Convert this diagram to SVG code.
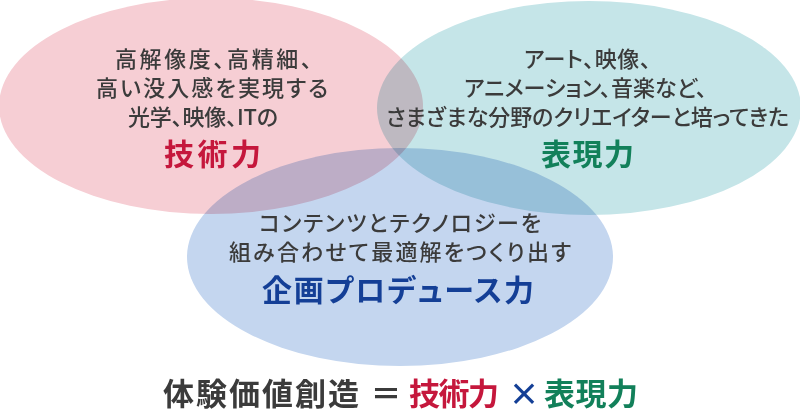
<svg xmlns="http://www.w3.org/2000/svg" width="800" height="414" viewBox="0 0 800 414">
<style>
.ell{mix-blend-mode:multiply}
text{font-family:"Noto Sans CJK JP","Noto Sans CJK SC",sans-serif;font-feature-settings:"palt";}
.d{font-size:22px;font-weight:500;fill:#3b3b3b}
.h{font-size:30px;font-weight:700}
.f{font-size:31px;font-weight:700}
.red{fill:#c5173c}
.grn{fill:#12805a}
.blu{fill:#143f96}
.gry{fill:#3b3b3b}
</style>
<rect width="800" height="414" fill="#ffffff"/>
<g id="gijutsu">
<ellipse class="ell" cx="211" cy="106" rx="212" ry="108" fill="#f6ced4"/>
<text class="d" x="115" y="67" textLength="197" lengthAdjust="spacing">高解像度、高精細、</text>
<text class="d" x="96" y="96" textLength="232" lengthAdjust="spacing">高い没入感を実現する</text>
<text class="d" x="128" y="125" textLength="150" lengthAdjust="spacing">光学、映像、ITの</text>
<text class="h red" x="164" y="165" textLength="97" lengthAdjust="spacing">技術力</text>
</g>
<g id="hyougen">
<ellipse class="ell" cx="589" cy="108" rx="212" ry="107" fill="#c5e5e8"/>
<text class="d" x="524" y="67" textLength="127" lengthAdjust="spacing">アート、映像、</text>
<text class="d" x="464" y="96" textLength="243" lengthAdjust="spacing">アニメーション、音楽など、</text>
<text class="d" x="386" y="125" textLength="403" lengthAdjust="spacing">さまざまな分野のクリエイターと培ってきた</text>
<text class="h grn" x="541" y="165" textLength="93" lengthAdjust="spacing">表現力</text>
</g>
<g id="kikaku">
<ellipse class="ell" cx="400" cy="257" rx="213" ry="109" fill="#c4d6ef"/>
<text class="d" x="259" y="231" textLength="282" lengthAdjust="spacing">コンテンツとテクノロジーを</text>
<text class="d" x="229" y="260" textLength="342" lengthAdjust="spacing">組み合わせて最適解をつくり出す</text>
<text class="h blu" x="262" y="301" textLength="272" lengthAdjust="spacing">企画プロデュース力</text>
</g>
<g id="formula">
<text class="f gry" x="163" y="405" textLength="196" lengthAdjust="spacing">体験価値創造</text>
<text class="f gry" x="386" y="405" text-anchor="middle">＝</text>
<text class="f red" x="409" y="405" textLength="90" lengthAdjust="spacing">技術力</text>
<text class="f blu" x="524" y="405" text-anchor="middle">×</text>
<text class="f grn" x="544" y="405" textLength="94" lengthAdjust="spacing">表現力</text>
</g>
</svg>
